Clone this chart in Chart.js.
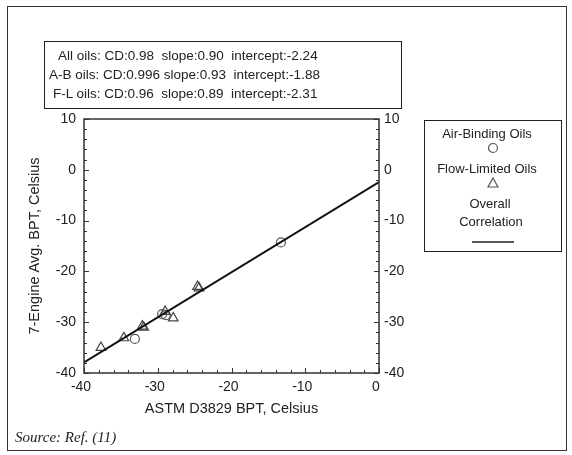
<!DOCTYPE html>
<html>
<head>
<meta charset="utf-8">
<script src="https://cdn.jsdelivr.net/npm/chart.js@4/dist/chart.umd.min.js"></script>
<style>
body { margin: 0; background: #fff; }
#wrap { position: relative; width: 572px; height: 455px; font-family: "Liberation Sans", Arial, sans-serif; color: #222; }
#chart { position: absolute; left: 0; top: 0; }
.frame { position: absolute; left: 7px; top: 6px; width: 558px; height: 443px; border: 1.5px solid #333; }
.stats { position: absolute; left: 44px; top: 41px; width: 356px; height: 66px; border: 1.5px solid #222; }
.stats div { position: absolute; font-size: 13.5px; white-space: pre; line-height: 16px; }
.legend { position: absolute; left: 424px; top: 120px; width: 136px; height: 130px; border: 1.5px solid #222; }
.legend div { position: absolute; left: 0; width: 124px; text-align: center; font-size: 13px; line-height: 15px; }
.legend div.sym { width: 136px; }
.source { position: absolute; left: 15px; top: 429px; font-family: "Liberation Serif", "Times New Roman", serif; font-style: italic; font-size: 15px; line-height: 17px; }
</style>
</head>
<body>
<div id="wrap">
  <div class="frame"></div>
  <canvas id="chart" width="572" height="455"></canvas>
  <div class="stats">
    <div style="left:13px;top:6px">All oils: CD:0.98  slope:0.90  intercept:-2.24</div>
    <div style="left:4px;top:25px">A-B oils: CD:0.996 slope:0.93  intercept:-1.88</div>
    <div style="left:8px;top:44px">F-L oils: CD:0.96  slope:0.89  intercept:-2.31</div>
  </div>
  <div class="legend">
    <div style="top:5px">Air-Binding Oils</div>
    <div class="sym" style="top:21px"><svg width="12" height="12"><circle cx="6" cy="6" r="4.5" fill="none" stroke="#555" stroke-width="1.2"/></svg></div>
    <div style="top:40px">Flow-Limited Oils</div>
    <div class="sym" style="top:56px"><svg width="12" height="12"><polygon points="6,1 11,10 1,10" fill="none" stroke="#555" stroke-width="1.2"/></svg></div>
    <div style="top:75px;width:130px">Overall</div>
    <div style="top:93px;width:132px">Correlation</div>
    <div class="sym" style="top:112px"><svg width="44" height="6"><line x1="1" y1="3" x2="43" y2="3" stroke="#222" stroke-width="1.5"/></svg></div>
  </div>
  <div class="source">Source: Ref. (11)</div>
</div>
<script>
var airBindingX = [-13.3, -29.4, -28.9, -33.1];
var airBindingY = [-14.3, -28.4, -28.6, -33.3];
var flowLimitedX = [-24.6, -24.4, -29.0, -27.9, -32.1, -31.9, -34.6, -37.7];
var flowLimitedY = [-23.0, -23.3, -27.9, -29.2, -30.8, -31.0, -33.1, -35.0];
var fitX = [-40, 0];
var fitY = [-37.9, -2.4];
var xTicks = [-40, -30, -20, -10, 0];
var yTicks = [10, 0, -10, -20, -30, -40];

function toPoints(xs, ys) {
	return xs.map(function(x, i) { return {x: x, y: ys[i]}; });
}

// frame round the plot and small inward ticks, every 2 units
var frameTicks = {
	id: 'frameTicks',
	afterDraw: function(chart) {
		var ctx = chart.ctx;
		var a = chart.chartArea;
		var sx = chart.scales.x, sy = chart.scales.y;
		ctx.save();
		ctx.strokeStyle = '#333';
		ctx.lineWidth = 1.5;
		ctx.strokeRect(a.left, a.top, a.right - a.left, a.bottom - a.top);
		ctx.lineWidth = 1;
		ctx.beginPath();
		for (var v = -40; v <= 0; v += 2) {
			var px = Math.round(sx.getPixelForValue(v)) + 0.5;
			var len = (v % 10 === 0) ? 5 : 3;
			ctx.moveTo(px, a.bottom);
			ctx.lineTo(px, a.bottom - len);
		}
		for (var w = -40; w <= 10; w += 2) {
			var py = Math.round(sy.getPixelForValue(w)) + 0.5;
			var l2 = (w % 10 === 0) ? 5 : 3;
			ctx.moveTo(a.left, py);
			ctx.lineTo(a.left + l2, py);
			ctx.moveTo(a.right, py);
			ctx.lineTo(a.right - l2, py);
		}
		ctx.stroke();
		ctx.restore();
	}
};

var tickFont = {family: '"Liberation Sans", Arial, sans-serif', size: 14};
var titleFont = {family: '"Liberation Sans", Arial, sans-serif', size: 14.5};

new Chart(document.getElementById('chart').getContext('2d'), {
	type: 'scatter',
	data: {
		datasets: [{
			label: 'Air-Binding Oils',
			data: toPoints(airBindingX, airBindingY),
			pointStyle: 'circle',
			pointRadius: 4.5,
			borderColor: '#555',
			backgroundColor: 'rgba(0,0,0,0)',
			borderWidth: 1.2
		}, {
			label: 'Flow-Limited Oils',
			data: toPoints(flowLimitedX, flowLimitedY),
			pointStyle: 'triangle',
			pointRadius: 5.6,
			borderColor: '#444',
			backgroundColor: 'rgba(0,0,0,0)',
			borderWidth: 1.2
		}, {
			label: 'Overall Correlation',
			type: 'line',
			data: toPoints(fitX, fitY),
			showLine: true,
			pointRadius: 0,
			borderColor: '#111',
			borderWidth: 2,
			fill: false,
			order: -1
		}]
	},
	options: {
		responsive: false,
		animation: false,
		layout: {padding: {top: 119, left: 0, right: 0, bottom: 0}},
		plugins: {legend: {display: false}, tooltip: {enabled: false}},
		scales: {
			x: {
				type: 'linear', min: -40, max: 0,
				afterFit: function(s) { s.height = 82; },
				afterBuildTicks: function(s) { s.ticks = xTicks.map(function(v) { return {value: v}; }); },
				grid: {display: false, drawTicks: false},
				border: {display: false},
				ticks: {color: '#222', font: tickFont, padding: 6, labelOffset: -3},
				title: {display: true, text: 'ASTM D3829 BPT, Celsius', color: '#222', font: titleFont, padding: {top: 0, bottom: 37}}
			},
			y: {
				type: 'linear', position: 'left', min: -40, max: 10,
				afterFit: function(s) { s.width = 84; },
				afterBuildTicks: function(s) { s.ticks = yTicks.map(function(v) { return {value: v}; }); },
				grid: {display: false, drawTicks: false},
				border: {display: false},
				ticks: {color: '#222', font: tickFont, padding: 8},
				title: {display: true, text: '7-Engine Avg. BPT, Celsius', color: '#222', font: titleFont, padding: {top: 26, bottom: 0}}
			},
			y2: {
				type: 'linear', position: 'right', min: -40, max: 10,
				afterFit: function(s) { s.width = 193; },
				afterBuildTicks: function(s) { s.ticks = yTicks.map(function(v) { return {value: v}; }); },
				grid: {display: false, drawTicks: false},
				border: {display: false},
				ticks: {color: '#222', font: tickFont, padding: 5}
			}
		}
	},
	plugins: [frameTicks]
});
</script>
</body>
</html>
